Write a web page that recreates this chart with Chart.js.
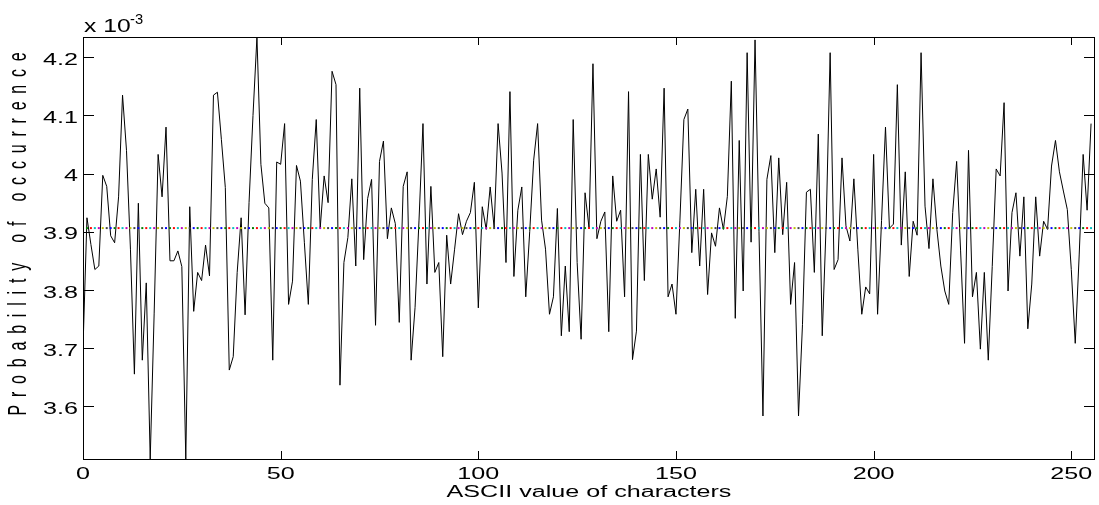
<!DOCTYPE html>
<html>
<head>
<meta charset="utf-8">
<script src="https://cdn.jsdelivr.net/npm/chart.js@4.4.1/dist/chart.umd.min.js"></script>
<style>
  html, body { margin: 0; padding: 0; background: #fff; }
  canvas { display: block; }
</style>
</head>
<body>
<canvas id="grafico" width="1099" height="505"></canvas>
<script>
// probability of each ASCII value (x 10^-3), index = ASCII code
const probValues = [
  3.700, 3.924, 3.878, 3.835, 3.841, 3.997, 3.978, 3.893, 3.881, 3.960,
  4.135, 4.040, 3.870, 3.655, 3.949, 3.679, 3.812, 3.509, 3.760, 4.033,
  3.960, 4.080, 3.850, 3.850, 3.867, 3.840, 3.509, 3.943, 3.763, 3.830,
  3.816, 3.877, 3.824, 4.135, 4.140, 4.059, 3.976, 3.662, 3.685, 3.830,
  3.924, 3.757, 3.950, 4.100, 4.235, 4.016, 3.949, 3.941, 3.679, 4.020,
  4.016, 4.086, 3.775, 3.815, 4.014, 3.987, 3.881, 3.775, 3.990, 4.093,
  3.906, 3.996, 3.950, 4.176, 4.153, 3.636, 3.847, 3.890, 3.991, 3.841,
  4.147, 3.852, 3.957, 3.990, 3.739, 4.021, 4.056, 3.888, 3.941, 3.914,
  3.744, 3.978, 4.003, 3.679, 3.770, 3.920, 4.086, 3.810, 3.978, 3.830,
  3.847, 3.685, 3.894, 3.810, 3.870, 3.931, 3.895, 3.918, 3.933, 3.985,
  3.769, 3.943, 3.904, 3.977, 3.907, 4.086, 4.001, 3.847, 4.141, 3.823,
  3.937, 3.977, 3.788, 3.900, 4.023, 4.086, 3.920, 3.870, 3.758, 3.788,
  3.940, 3.721, 3.841, 3.728, 4.093, 3.847, 3.715, 3.967, 3.907, 4.189,
  3.888, 3.918, 3.934, 3.728, 3.996, 3.918, 3.937, 3.788, 4.141, 3.680,
  3.729, 4.033, 3.816, 4.033, 3.956, 4.008, 3.925, 4.147, 3.788, 3.810,
  3.758, 3.920, 4.093, 4.111, 3.864, 3.973, 3.841, 3.973, 3.792, 3.898,
  3.875, 3.941, 3.904, 3.961, 4.159, 3.751, 4.057, 3.798, 4.208, 3.882,
  4.230, 3.900, 3.583, 3.990, 4.031, 3.864, 4.027, 3.895, 3.985, 3.775,
  3.847, 3.583, 3.740, 3.968, 3.973, 3.830, 4.068, 3.721, 3.915, 4.208,
  3.835, 3.852, 4.027, 3.910, 3.884, 3.991, 3.870, 3.758, 3.805, 3.793,
  4.033, 3.758, 3.919, 4.080, 3.906, 3.913, 4.153, 3.877, 4.003, 3.823,
  3.918, 3.894, 4.208, 3.944, 3.871, 3.991, 3.904, 3.841, 3.798, 3.775,
  3.933, 4.021, 3.867, 3.708, 4.040, 3.788, 3.830, 3.698, 3.830, 3.679,
  3.840, 4.008, 3.996, 4.122, 3.798, 3.933, 3.967, 3.858, 3.960, 3.733,
  3.810, 3.960, 3.858, 3.918, 3.904, 4.013, 4.057, 4.003, 3.970, 3.938,
  3.835, 3.708, 3.860, 4.033, 3.937, 4.086
];

// ideal uniform probability 1/256 (x 10^-3)
const uniformProb = 3.90625;

// colours cycled by the dotted reference line (old MATLAB colour order)
const dotColors = ['#0000ff', '#008000', '#ff0000', '#00bfbf', '#bf00bf', '#bfbf00', '#404040'];

const xTicks = [0, 50, 100, 150, 200, 250];
const xTickLabels = ['0', '50', '100', '150', '200', '250'];
const yTicks = [3.6, 3.7, 3.8, 3.9, 4.0, 4.1, 4.2];
const yTickLabels = ['3.6', '3.7', '3.8', '3.9', '4', '4.1', '4.2'];

const xTitle = 'ASCII value of characters';
const yTitle = 'Probability of occurrence';

const FONTE = '"Liberation Sans", Arial, sans-serif';

// texto esticado na horizontal, como na figura original
function textoEsticado(ctx, texto, x, y, opts) {
    ctx.save();
    ctx.translate(x, y);
    if (opts.rot) ctx.rotate(opts.rot);
    ctx.scale(opts.sx || 1, opts.sy || 1);
    ctx.font = opts.font;
    if (opts.spacing) ctx.letterSpacing = opts.spacing + 'px';
    ctx.fillStyle = '#000';
    ctx.textAlign = opts.align || 'left';
    ctx.textBaseline = opts.baseline || 'alphabetic';
    ctx.fillText(texto, 0, 0);
    ctx.restore();
}

const eixosMatlab = {
    id: 'eixosMatlab',
    afterDraw(chart) {
        const ctx = chart.ctx;
        const area = chart.chartArea;
        const sx = chart.scales.x;
        const sy = chart.scales.y;

        ctx.save();
        ctx.strokeStyle = '#000';
        ctx.lineWidth = 1;

        // ticks para dentro nos quatro lados
        ctx.beginPath();
        xTicks.forEach(t => {
            const px = Math.round(sx.getPixelForValue(t)) + 0.5;
            ctx.moveTo(px, area.bottom); ctx.lineTo(px, area.bottom - 8);
            ctx.moveTo(px, area.top); ctx.lineTo(px, area.top + 8);
        });
        yTicks.forEach(t => {
            const py = Math.round(sy.getPixelForValue(t)) + 0.5;
            ctx.moveTo(area.left, py); ctx.lineTo(area.left + 11, py);
            ctx.moveTo(area.right, py); ctx.lineTo(area.right - 11, py);
        });
        ctx.stroke();

        // moldura
        ctx.strokeRect(area.left + 0.5, area.top + 0.5, area.right - area.left - 1, area.bottom - area.top);
        ctx.restore();

        const fTick = '16px ' + FONTE;
        xTicks.forEach((t, i) => {
            textoEsticado(ctx, xTickLabels[i], sx.getPixelForValue(t), area.bottom + 20,
                { font: fTick, sx: 1.57, align: 'center' });
        });
        yTicks.forEach((t, i) => {
            textoEsticado(ctx, yTickLabels[i], area.left - 5, sy.getPixelForValue(t) + 7.7,
                { font: fTick, sx: 1.57, align: 'right' });
        });

        // titulo do eixo x
        textoEsticado(ctx, xTitle, (area.left + area.right) / 2, 497,
            { font: fTick, sx: 1.57, align: 'center' });

        // titulo do eixo y, girado e espaçado
        textoEsticado(ctx, yTitle, 26, 230,
            { font: '16px ' + FONTE, rot: -Math.PI / 2, sy: 1.6, spacing: 7.8, align: 'center' });

        // expoente "x 10^-3"
        textoEsticado(ctx, 'x 10', 84, 31.7, { font: '19px ' + FONTE, sx: 1.3 });
        textoEsticado(ctx, '-3', 130, 23.5, { font: '14px ' + FONTE, sx: 1.05 });
    }
};

const ctx = document.getElementById('grafico').getContext('2d');

new Chart(ctx, {
    type: 'line',
    data: {
        datasets: [
            {
                label: 'ideal',
                data: probValues.map((v, i) => ({ x: i, y: uniformProb })),
                showLine: false,
                pointStyle: 'rect',
                pointRadius: 1.4,
                pointBorderWidth: 0,
                pointBackgroundColor: probValues.map((v, i) => dotColors[i % dotColors.length]),
                order: 0
            },
            {
                label: 'probabilidade',
                data: probValues.map((v, i) => ({ x: i, y: v })),
                borderColor: '#000',
                borderWidth: 1,
                pointRadius: 0,
                tension: 0,
                fill: false,
                order: 1
            }
        ]
    },
    options: {
        responsive: false,
        animation: false,
        events: [],
        layout: { padding: { left: 83, top: 37, right: 4, bottom: 46 } },
        plugins: { legend: { display: false }, tooltip: { enabled: false } },
        scales: {
            x: { type: 'linear', min: 0, max: 256, display: false },
            y: { type: 'linear', min: 3.509, max: 4.235, display: false }
        }
    },
    plugins: [eixosMatlab]
});
</script>
</body>
</html>
